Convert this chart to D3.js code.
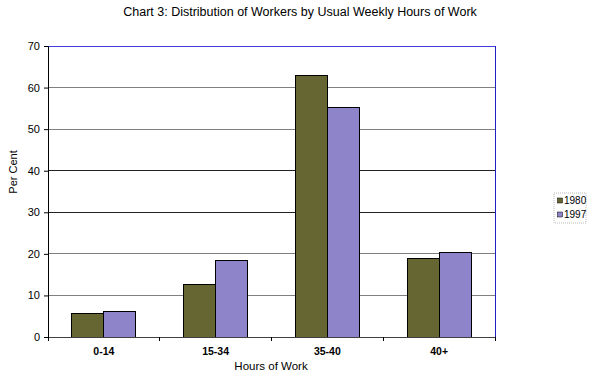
<!DOCTYPE html>
<html><head><meta charset="utf-8">
<script src="https://cdn.jsdelivr.net/npm/d3@7"></script>
<style>body{margin:0;background:#fff}svg{display:block;font-family:"Liberation Sans",Arial,sans-serif}</style>
</head><body><svg id="c" width="598" height="376"></svg>
<script>
const categories = ["0-14","15-34","35-40","40+"];
const seriesNames = ["1980","1997"];
const values1980 = [5.7, 12.7, 62.8, 18.8];
const values1997 = [6.2, 18.3, 55.3, 20.4];
const yTicks = [0,10,20,30,40,50,60,70];
const colors = ["#666633","#8D84C9"];

const svg = d3.select("#c");
const m = {l:48, r:495, t:46, b:337};
const x = d3.scaleBand().domain(categories).range([m.l, m.r]).paddingInner(0).paddingOuter(0);
const x1 = d3.scaleBand().domain(seriesNames).range([0, x.bandwidth()]).paddingOuter(0.75).paddingInner(0);
const y = d3.scaleLinear().domain([0,70]).range([m.b, m.t]);

// gridlines
svg.append("g").selectAll("line").data(yTicks.filter(d=>d>0 && d<70)).join("line")
  .attr("x1", m.l).attr("x2", m.r).attr("y1", d=>y(d)).attr("y2", d=>y(d))
  .attr("stroke", d=> (d===30||d===40) ? "#222" : "#808080").attr("stroke-width",1).attr("shape-rendering","crispEdges");
// top & right border
svg.append("line").attr("x1",m.l).attr("x2",m.r).attr("y1",y(70)).attr("y2",y(70)).attr("stroke","#4040e0").attr("shape-rendering","crispEdges");
svg.append("line").attr("x1",m.r).attr("x2",m.r).attr("y1",m.t).attr("y2",m.b).attr("stroke","#2020c0").attr("shape-rendering","crispEdges");

// bars
const data = categories.map((c,i)=>({c, vals:[values1980[i], values1997[i]]}));
const g = svg.append("g").selectAll("g").data(data).join("g").attr("transform", d=>`translate(${x(d.c)},0)`);
g.selectAll("rect").data(d=>d.vals.map((v,j)=>({s:seriesNames[j], v, j}))).join("rect")
  .attr("x", d=>x1(d.s)).attr("width", x1.bandwidth())
  .attr("y", d=>y(d.v)).attr("height", d=>y(0)-y(d.v))
  .attr("fill", d=>colors[d.j]).attr("stroke","#000").attr("stroke-width",1).attr("shape-rendering","crispEdges");

// y axis
const ya = svg.append("g").attr("transform",`translate(${m.l},0)`)
  .call(d3.axisLeft(y).tickValues(yTicks).tickSize(4).tickPadding(4));
ya.select(".domain").attr("stroke","#000");
ya.selectAll("text").attr("font-size",11).attr("font-family","Liberation Sans, Arial, sans-serif").attr("fill","#000");

// x axis
const xa = svg.append("g").attr("transform",`translate(0,${m.b})`);
xa.append("line").attr("x1",m.l).attr("x2",m.r).attr("stroke","#404040").attr("shape-rendering","crispEdges");
xa.selectAll("line.t").data(categories.map(c=>x(c)).concat([m.r])).join("line").attr("class","t")
  .attr("x1",d=>d).attr("x2",d=>d).attr("y1",0).attr("y2",4).attr("stroke","#000").attr("shape-rendering","crispEdges");
xa.selectAll("text").data(categories).join("text")
  .attr("x", d=>x(d)+x.bandwidth()/2).attr("y",18).attr("text-anchor","middle")
  .attr("font-size",10.5).attr("font-weight","bold").text(d=>d);

// titles
svg.append("text").attr("x",300).attr("y",16).attr("text-anchor","middle").attr("font-size",12.5).text("Chart 3: Distribution of Workers by Usual Weekly Hours of Work");
svg.append("text").attr("x",271).attr("y",370).attr("text-anchor","middle").attr("font-size",11.5).text("Hours of Work");
svg.append("text").attr("transform","translate(17,172) rotate(-90)").attr("text-anchor","middle").attr("font-size",11).text("Per Cent");

// legend
const lg = svg.append("g").attr("transform","translate(554,193)");
lg.append("rect").attr("width",32).attr("height",30).attr("fill","#fff").attr("stroke","#bbb").attr("stroke-dasharray","1,1");
lg.selectAll("rect.k").data(seriesNames).join("rect").attr("class","k")
  .attr("x",3.5).attr("y",(d,i)=>5+i*14).attr("width",5).attr("height",5)
  .attr("fill",(d,i)=>colors[i]).attr("stroke","#000").attr("stroke-width",0.5);
lg.selectAll("text").data(seriesNames).join("text")
  .attr("x",10).attr("y",(d,i)=>11+i*14).attr("font-size",10).text(d=>d);
</script></body></html>
